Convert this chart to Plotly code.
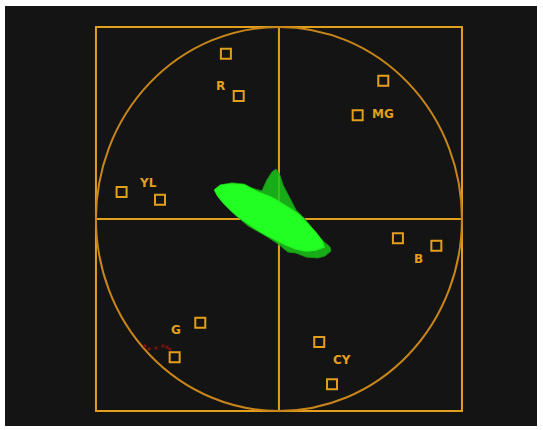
import plotly.graph_objects as go

# Colour-bar targets (vectorscope units, graticule radius = 100)
target_names = ["R", "MG", "B", "CY", "G", "YL"]
target_outer_u = [-29, 57, 86, 29, -57, -86]
target_outer_v = [86, 72, -14, -86, -72, 14]
target_inner_u = [-22, 43, 65, 22, -43, -65]
target_inner_v = [64, 54, -10, -64, -54, 10]

# Chroma trace: dense core and sparser fringe outlines
core_u = [-35.0, -31.7, -25.7, -19.1, -14.8, -10.4, -6.0, -1.6, 2.7, 7.1, 11.5, 15.8,
          20.2, 23.5, 24.6, 20.2, 14.8, 9.3, 3.8, -1.6, -7.1, -12.6, -16.9, -21.3,
          -25.7, -30.1, -33.3]
core_v = [15.1, 17.4, 18.2, 17.7, 15.6, 13.5, 12.0, 9.9, 7.3, 4.7, 1.6, -2.6,
          -7.3, -11.5, -14.6, -16.1, -16.7, -15.6, -13.5, -10.9, -8.3, -5.2, -2.6, 0.5,
          4.2, 8.3, 12.0]
fringe_u = [-35.5, -32.2, -25.7, -19.1, -14.8, -9.3, -6.6, -3.8, -1.6, 0.5, 2.2, 4.4,
            7.1, 9.3, 13.7, 19.1, 23.5, 27.9, 28.4, 25.1, 21.3, 14.8, 9.3, 4.9,
            -0.5, -7.1, -12.6, -16.9, -21.3, -25.7, -30.1, -33.3]
fringe_v = [15.1, 17.7, 18.8, 18.2, 16.1, 14.6, 20.3, 24.5, 26.0, 22.9, 17.7, 13.5,
            8.3, 4.7, 0.5, -5.7, -10.9, -14.6, -16.7, -19.3, -20.3, -19.8, -17.7, -17.2,
            -13.0, -8.9, -5.7, -3.6, 0.0, 3.6, 7.8, 11.5]

# Stray out-of-gamut samples near the green target
stray_u = [-73.2, -71.0, -67.2, -63.4, -61.2, -59.6]
stray_v = [-66.1, -67.7, -67.2, -66.1, -66.7, -67.7]

ORANGE = "#e39e1c"
DIM_ORANGE = "#c8861a"
BG = "#141414"

fig = go.Figure()

fig.add_trace(go.Scatter(
    x=fringe_u + fringe_u[:1], y=fringe_v + fringe_v[:1],
    mode="lines", fill="toself", fillcolor="rgba(25,200,25,0.85)",
    line=dict(color="rgba(20,150,20,0.9)", width=1), hoverinfo="skip"))
fig.add_trace(go.Scatter(
    x=core_u + core_u[:1], y=core_v + core_v[:1],
    mode="lines", fill="toself", fillcolor="#22ff22",
    line=dict(color="#22f522", width=1.5), hoverinfo="skip"))

fig.add_trace(go.Scatter(
    x=stray_u, y=stray_v, mode="markers",
    marker=dict(color="#7a1010", size=3, symbol="square"), hoverinfo="skip"))

fig.add_trace(go.Scatter(
    x=target_outer_u + target_inner_u, y=target_outer_v + target_inner_v,
    mode="markers",
    marker=dict(symbol="square-open", size=10, color=ORANGE, line=dict(width=2, color=ORANGE)),
    hoverinfo="skip"))

# Graticule: outer box, crosshair and the 100% circle (drawn beneath the trace)
fig.add_shape(type="rect", x0=-100, x1=100, y0=-100, y1=100, layer="below",
              line=dict(color=ORANGE, width=2))
fig.add_shape(type="line", x0=0, x1=0, y0=-100, y1=100, layer="below",
              line=dict(color=ORANGE, width=2))
fig.add_shape(type="line", x0=-100, x1=100, y0=0, y1=0, layer="below",
              line=dict(color=ORANGE, width=2))
fig.add_shape(type="circle", x0=-100, x1=100, y0=-100, y1=100, layer="below",
              line=dict(color=DIM_ORANGE, width=2))

# Target labels
label_pos = {"R": (-31.7, 69.4), "MG": (56.8, 54.7), "B": (76.3, -20.7),
             "CY": (34.3, -73.3), "G": (-56.3, -57.8), "YL": (-71.6, 18.5)}
for name in target_names:
    lx, ly = label_pos[name]
    fig.add_annotation(x=lx, y=ly, text=name, showarrow=False,
                       font=dict(family="DejaVu Sans", size=12, color=ORANGE, weight="bold"))

fig.update_xaxes(range=[-149.7, 141.0], visible=False, fixedrange=True)
fig.update_yaxes(range=[-107.8, 110.9], visible=False, fixedrange=True)
fig.update_layout(
    width=543, height=430,
    margin=dict(l=5, r=6, t=6, b=4),
    paper_bgcolor="white", plot_bgcolor=BG,
    showlegend=False,
)

fig.write_html("out.html")
